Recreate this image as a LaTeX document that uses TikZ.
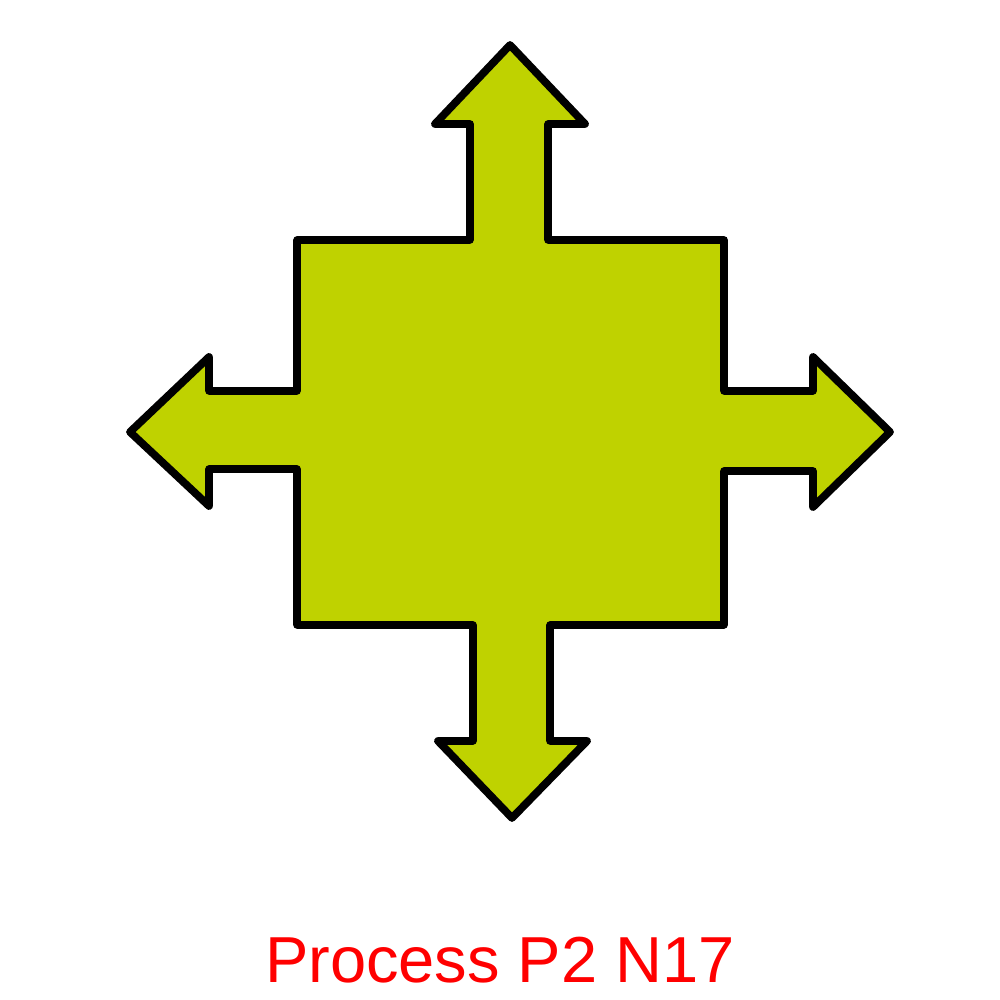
\documentclass[tikz,border=0pt]{standalone}
\usepackage{fontspec}
\setmainfont{Liberation Sans}
\definecolor{crossfill}{RGB}{191,210,0}
\definecolor{captionred}{RGB}{255,0,0}
\tikzset{
  crossshape/.style={draw=black, fill=crossfill, line width=2.2pt, line join=round},
  captiontext/.style={text=captionred, font=\fontsize{18.5pt}{22pt}\selectfont, inner sep=0pt}
}
\begin{document}
\begin{tikzpicture}
\useasboundingbox (0,0) rectangle (10,10);
\draw[crossshape] (5.10,9.55) -- (5.85,8.76) -- (5.48,8.76) -- (5.48,7.60) -- (7.24,7.60) -- (7.24,6.09) -- (8.13,6.09) -- (8.13,6.43) -- (8.90,5.68) -- (8.13,4.93) -- (8.13,5.29) -- (7.24,5.29) -- (7.24,3.75) -- (5.50,3.75) -- (5.50,2.59) -- (5.87,2.59) -- (5.12,1.82) -- (4.38,2.59) -- (4.73,2.59) -- (4.73,3.75) -- (2.97,3.75) -- (2.97,5.31) -- (2.09,5.31) -- (2.09,4.94) -- (1.30,5.68) -- (2.09,6.43) -- (2.09,6.09) -- (2.97,6.09) -- (2.97,7.60) -- (4.70,7.60) -- (4.70,8.76) -- (4.35,8.76) -- cycle;
\node[captiontext, anchor=base] (caption) at (5.0,0.18) {Process P2 N17};
\end{tikzpicture}
\end{document}
